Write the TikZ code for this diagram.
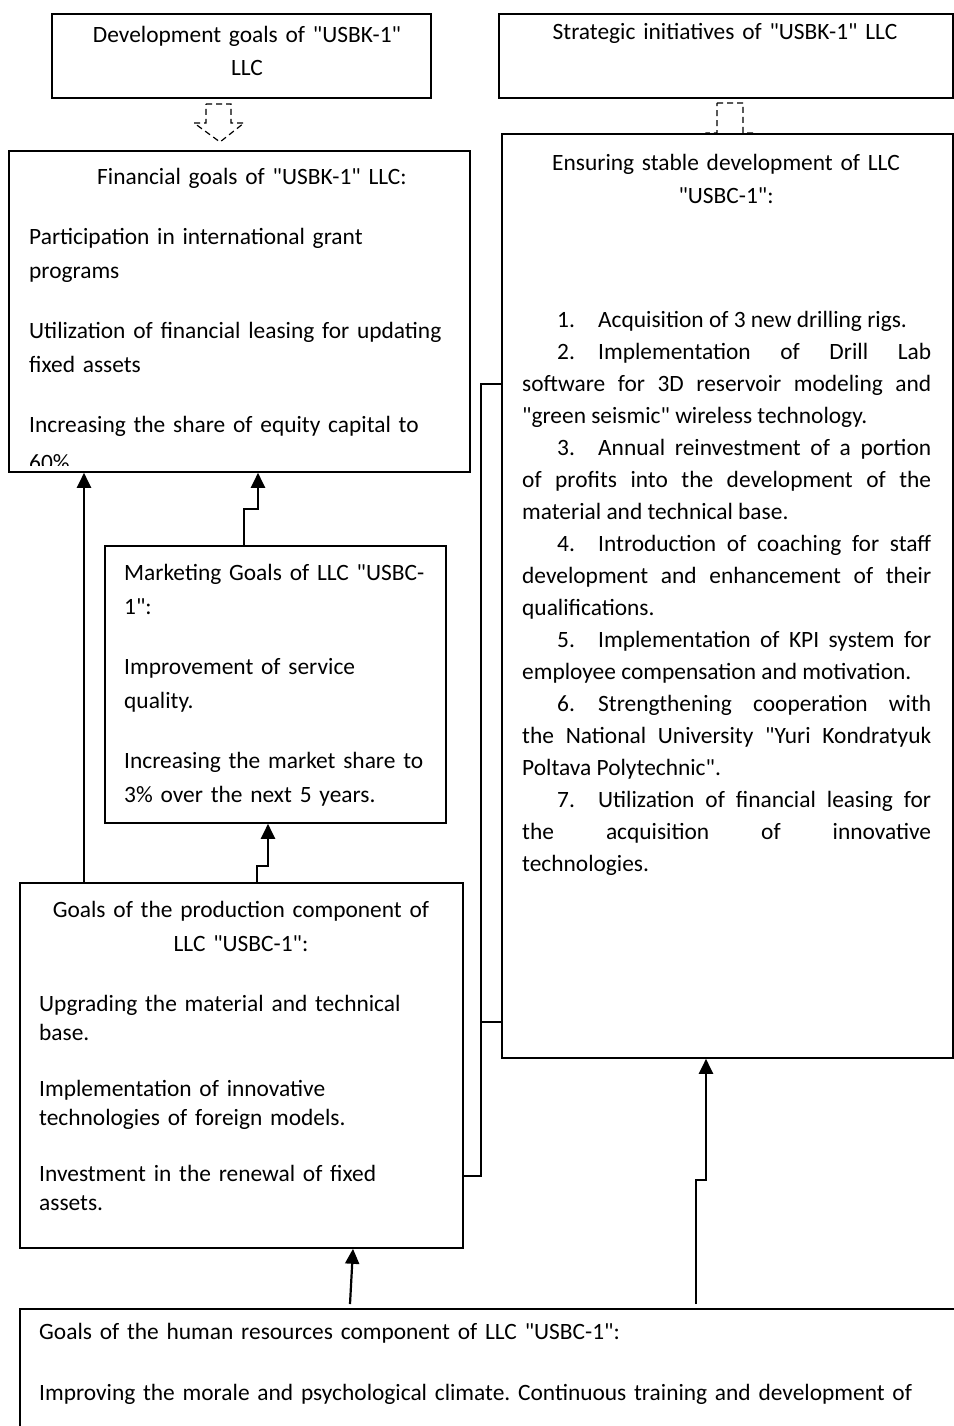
\documentclass[tikz,border=0pt]{standalone}
\usepackage{fontspec}
\setmainfont{Carlito}[Ligatures=TeXOff]
\usetikzlibrary{positioning,calc,arrows.meta}
\frenchspacing

\begin{document}
\begin{tikzpicture}[x=1pt,y=-1pt,
    box/.style={draw,line width=1.8pt,rectangle,inner sep=0pt,anchor=north west},
    txt/.style={inner sep=0pt,anchor=base west,align=left,font=\fontsize{23.4}{34}\selectfont},
    ttl/.style={inner sep=0pt,anchor=base,align=center,font=\fontsize{23.4}{33}\selectfont},
    arr/.style={line width=2.2pt,-{Triangle[length=15pt,width=14pt]}},
    link/.style={line width=1.6pt},
    hollow/.style={line width=1.2pt,dash pattern=on 6pt off 4pt}]
  \useasboundingbox (0,0) rectangle (953,1426);

  % top row
  \node[box,minimum width=379pt,minimum height=84pt] (dev) at (51,13) {};
  \node[box,minimum width=454pt,minimum height=84pt] (strat) at (498,13) {};
  \node[ttl,text width=379pt] (devtxt) at (247,43) {Development goals of "USBK-1"\\ LLC};
  \node[ttl,text width=454pt] (strattxt) at (725,40) {Strategic initiatives of "USBK-1" LLC};

  % dashed block arrows
  \draw[hollow] (206,104) -- (231,104) -- (231,123) -- (244,123) -- (220,142) -- (194,123) -- (206,123) -- cycle;
  \draw[hollow] (717,103) -- (743,103) -- (743,133) -- (753,133) -- (730,150) -- (707,133) -- (717,133) -- cycle;

  % financial goals
  \node[box,minimum width=461pt,minimum height=321pt] (fin) at (8,150) {};
  \node[ttl,text width=461pt] (fintitle) at (252,184) {Financial goals of "USBK-1" LLC:};
  \begin{scope}
    \clip (8,150) rectangle (469,465);
    \node[txt,text width=435pt] (finbody) at (29,244) {Participation in international grant\\ programs\\[26pt]
      Utilization of financial leasing for updating\\ fixed assets\\[26pt]
      Increasing the share of equity capital to\\[4pt] 60\%};
  \end{scope}

  % ensuring stable development
  \node[box,fill=white,minimum width=451pt,minimum height=924pt] (ens) at (501,133) {};
  \node[ttl,text width=451pt] (enstitle) at (726,170) {Ensuring stable development of LLC\\ "USBC-1":};
  \node[txt,text width=409pt,align=justify,font=\fontsize{23.4}{32}\selectfont] (enslist) at (522,327) {%
    \hspace*{35pt}\makebox[41pt][l]{1.}Acquisition of 3 new drilling rigs.\par
    \hspace*{35pt}\makebox[41pt][l]{2.}Implementation of Drill Lab\linebreak software for 3D reservoir modeling and\linebreak "green seismic" wireless technology.\par
    \hspace*{35pt}\makebox[41pt][l]{3.}Annual reinvestment of a portion\linebreak of profits into the development of the\linebreak material and technical base.\par
    \hspace*{35pt}\makebox[41pt][l]{4.}Introduction of coaching for staff\linebreak development and enhancement of their\linebreak qualifications.\par
    \hspace*{35pt}\makebox[41pt][l]{5.}Implementation of KPI system for\linebreak employee compensation and motivation.\par
    \hspace*{35pt}\makebox[41pt][l]{6.}Strengthening cooperation with\linebreak the National University "Yuri Kondratyuk\linebreak Poltava Polytechnic".\par
    \hspace*{35pt}\makebox[41pt][l]{7.}Utilization of financial leasing for\linebreak the acquisition of innovative\linebreak technologies.};

  % marketing goals
  \node[box,minimum width=341pt,minimum height=277pt] (mkt) at (104,545) {};
  \node[txt,text width=315pt] (mktbody) at (124,580) {Marketing Goals of LLC "USBC-\\ 1":\\[26pt]
    Improvement of service\\ quality.\\[26pt]
    Increasing the market share to\\ 3\% over the next 5 years.};

  % production component
  \node[box,minimum width=443pt,minimum height=365pt] (prod) at (19,882) {};
  \node[ttl,text width=443pt,font=\fontsize{23.4}{34}\selectfont] (prodtitle) at (241,917) {Goals of the production component of\\ LLC "USBC-1":};
  \node[txt,text width=415pt,font=\fontsize{23.4}{29}\selectfont] (prodbody) at (39,1011) {Upgrading the material and technical\\ base.\\[27pt]
    Implementation of innovative\\ technologies of foreign models.\\[27pt]
    Investment in the renewal of fixed\\ assets.};

  % human resources component
  \node[box,minimum width=960pt,minimum height=200pt] (hr) at (19,1308) {};
  \node[txt,text width=900pt,font=\fontsize{23.4}{61}\selectfont] (hrbody) at (39,1339) {Goals of the human resources component of LLC "USBC-1":\\
    Improving the morale and psychological climate. Continuous training and development of};

  % connectors
  \draw[arr] (84,0 |- prod.north) -- (84,0 |- fin.south);
  \draw[arr] (244,0 |- mkt.north) |- (258,509) -- (258,0 |- fin.south);
  \draw[arr] (257,0 |- prod.north) |- (268,866) -- (268,0 |- mkt.south);
  \draw[arr] (350,1304) -- (353,0 |- prod.south);
  \draw[arr] (696,1304) |- (706,1180) -- (706,0 |- ens.south);
  \begin{scope}[link]
    \draw (prod.east |- 0,1176) -| (481,384) -- (ens.west |- 0,384);
    \draw (481,1022) -- (ens.west |- 0,1022);
  \end{scope}
\end{tikzpicture}
\end{document}
